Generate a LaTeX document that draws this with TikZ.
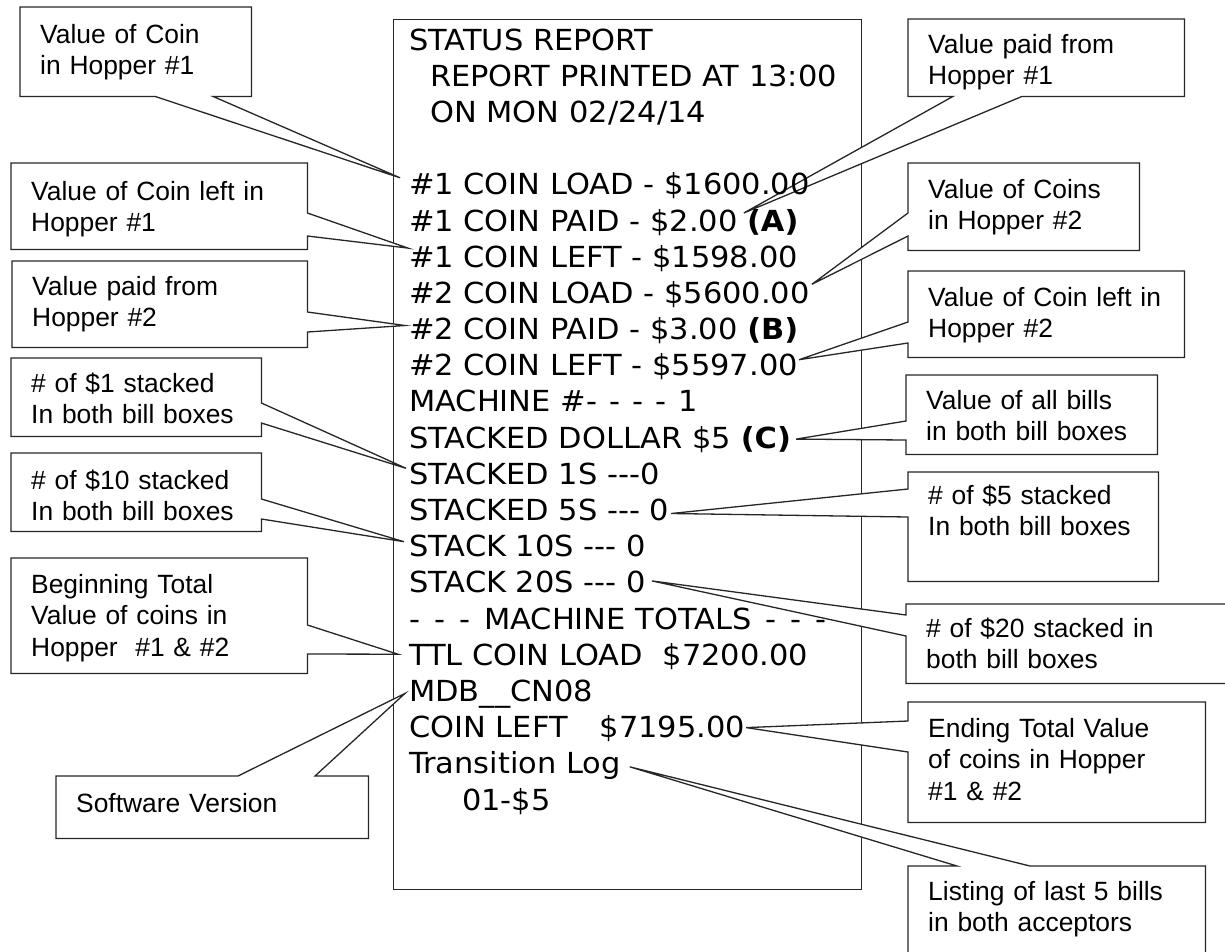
\documentclass[tikz,border=0pt]{standalone}
\usepackage{fontspec}
\setmainfont{Liberation Sans}
\newfontfamily\receiptfont[Ligatures=TeXOff, FakeStretch=1.05]{DejaVu Sans}
\usetikzlibrary{backgrounds}

\tikzset{
  note/.style={anchor=north west, inner xsep=20pt, inner ysep=0pt, align=left,
    font=\fontsize{26.4}{31.5}\selectfont},
  rline/.style={anchor=base west, inner sep=0pt,
    font=\receiptfont\fontsize{29}{36}\selectfont},
  outline/.style={draw=black!85, line width=1.3pt, fill=white},
}

\begin{document}
\begin{tikzpicture}[x=1pt, y=-1pt]
  \useasboundingbox (0,0) rectangle (1225,951);

  % report lines
  \node[rline] (r0) at (409,50) {STATUS REPORT};
  \node[rline] (r1) at (430,86.2) {REPORT PRINTED AT 13:00};
  \node[rline] (r2) at (430,122.4) {ON MON 02/24/14};
  \node[rline] (r4) at (409,194.8) {\#1 COIN LOAD - \$1600.00};
  \node[rline] (r5) at (409,231) {\#1 COIN PAID - \$2.00};
  \node[rline, font=\receiptfont\bfseries\fontsize{29}{36}\selectfont] (r5a) at ([xshift=9pt]r5.base east) {(A)};
  \node[rline] (r6) at (409,267.1) {\#1 COIN LEFT - \$1598.00};
  \node[rline] (r7) at (409,303.3) {\#2 COIN LOAD - \$5600.00};
  \node[rline] (r8) at (409,339.5) {\#2 COIN PAID - \$3.00 \textbf{(B)}};
  \node[rline] (r9) at (409,375.7) {\#2 COIN LEFT - \$5597.00};
  \node[rline] (r10) at (409,411.9) {MACHINE \#-\hspace{12pt}-\hspace{12pt}-\hspace{12pt}-\hspace{12pt}1};
  \node[rline] (r11) at (409,448.1) {STACKED DOLLAR \$5 \textbf{(C)}};
  \node[rline] (r12) at (409,484.3) {STACKED 1S ---0};
  \node[rline] (r13) at (409,520.5) {STACKED 5S --- 0};
  \node[rline] (r14) at (409,556.7) {STACK 10S --- 0};
  \node[rline] (r15) at (409,592.9) {STACK 20S --- 0};
  \node[rline] (r16) at (409,629) {-\hspace{14pt}-\hspace{14pt}-\hspace{14pt}MACHINE TOTALS\hspace{14pt}-\hspace{14pt}-\hspace{14pt}-};
  \node[rline] (r17) at (409,665.2) {TTL COIN LOAD\hspace{20pt}\$7200.00};
  \node[rline] (r18) at (409,701.4) {MDB\_\_CN08};
  \node[rline] (r19) at (409,737.6) {COIN LEFT\hspace{32pt}\$7195.00};
  \node[rline] (r20) at (409,773.8) {Transition Log};
  \node[rline] (r21) at (462,810) {01-\$5};

  % callout texts, left side
  \node[note, text width=191pt, text height=36pt, text depth=53pt] (c1) at (20,7) {Value of Coin\\in Hopper \#1};
  \node[note, text width=256pt, text height=37pt, text depth=49pt] (c2) at (11,163) {Value of Coin left in\\Hopper \#1};
  \node[note, text width=255pt, text height=34pt, text depth=52pt] (c3) at (12,261) {Value paid from\\Hopper \#2};
  \node[note, text width=210pt, text height=34pt, text depth=44pt] (c4) at (11,358) {\# of \$1 stacked\\In both bill boxes};
  \node[note, text width=210pt, text height=36pt, text depth=42pt] (c5) at (11,453) {\# of \$10 stacked\\In both bill boxes};
  \node[note, text width=256pt, text height=35pt, text depth=80pt] (c6) at (11,558) {Beginning Total\\Value of coins in\\Hopper\ \ \#1 \& \#2};
  \node[note, text width=272pt, text height=36pt, text depth=26pt] (c7) at (56,776) {Software Version};

  % callout texts, right side
  \node[note, text width=236pt, text height=34pt, text depth=43pt] (c8) at (908,19) {Value paid from\\Hopper \#1};
  \node[note, text width=191pt, text height=35pt, text depth=52pt] (c9) at (908,163) {Value of Coins\\in Hopper \#2};
  \node[note, text width=236pt, text height=35pt, text depth=51pt] (c10) at (908,271) {Value of Coin left in\\Hopper \#2};
  \node[note, text width=211pt, text height=34pt, text depth=45pt] (c11) at (906,375) {Value of all bills\\in both bill boxes};
  \node[note, text width=210pt, text height=32pt, text depth=77pt] (c12) at (908,472) {\# of \$5 stacked\\In both bill boxes};
  \node[note, text width=299pt, text height=33pt, text depth=46pt] (c13) at (906,604) {\# of \$20 stacked in\\both bill boxes};
  \node[note, text width=257pt, text height=35pt, text depth=85pt] (c14) at (908,702) {Ending Total Value\\of coins in Hopper\\\#1 \& \#2};
  \node[note, text width=257pt, text height=34pt, text depth=84pt] (c15) at (908,866) {Listing of last 5 bills\\in both acceptors};

  % pointer tips
  \coordinate (t1) at ([xshift=-9pt, yshift=17pt]r4.base west);
  \coordinate (t2) at ([xshift=-1pt, yshift=19pt]r6.base west);
  \coordinate (t3) at ([xshift=-4pt, yshift=14pt]r8.base west);
  \coordinate (t4) at ([xshift=-3pt, yshift=16pt]r12.base west);
  \coordinate (t5) at ([xshift=-5pt, yshift=15pt]r14.base west);
  \coordinate (t6) at ([xshift=-11pt, yshift=11pt]r17.base west);
  \coordinate (t7) at ([xshift=-4pt, yshift=8pt]r18.base west);
  \coordinate (t8) at ([xshift=6pt, yshift=18pt]r5.base east);
  \coordinate (t9) at ([xshift=2pt, yshift=19pt]r7.base east);
  \coordinate (t10) at ([xshift=1pt, yshift=16pt]r9.base east);
  \coordinate (t11) at ([xshift=5pt, yshift=9pt]r11.base east);
  \coordinate (t12) at ([xshift=2pt, yshift=7pt]r13.base east);
  \coordinate (t13) at ([xshift=6pt, yshift=12pt]r15.base east);
  \coordinate (t14) at ([xshift=1pt, yshift=10pt]r19.base east);
  \coordinate (t15) at ([xshift=9pt, yshift=7pt]r20.base east);

  \begin{pgfonlayer}{background}
    % printout frame
    \node[draw=black!85, line width=1.3pt, minimum width=468pt, minimum height=870pt,
      anchor=north west, inner sep=0pt] (receipt) at (393,19) {};

    % left callouts
    \draw[outline] (c1.north west) -- (c1.north east) -- (c1.south east) -- ([xshift=193pt]c1.south west) -- (t1) -- ([xshift=135pt]c1.south west) -- (c1.south west) -- cycle;
    \draw[outline] (c2.north west) -- (c2.north east) -- ([yshift=-50pt]c2.north east) -- (t2) -- ([yshift=-73pt]c2.north east) -- (c2.south east) -- (c2.south west) -- cycle;
    \draw[outline] (c3.north west) -- (c3.north east) -- ([yshift=-51pt]c3.north east) -- (t3) -- ([yshift=-71pt]c3.north east) -- (c3.south east) -- (c3.south west) -- cycle;
    \draw[outline] (c4.north west) -- (c4.north east) -- ([yshift=-45pt]c4.north east) -- (t4) -- ([yshift=-65pt]c4.north east) -- (c4.south east) -- (c4.south west) -- cycle;
    \draw[outline] (c5.north west) -- (c5.north east) -- ([yshift=-46pt]c5.north east) -- (t5) -- ([yshift=-66pt]c5.north east) -- (c5.south east) -- (c5.south west) -- cycle;
    \draw[outline] (c6.north west) -- (c6.north east) -- ([yshift=-67pt]c6.north east) -- (t6) -- ([yshift=-96pt]c6.north east) -- (c6.south east) -- (c6.south west) -- cycle;
    \draw[outline] (c7.north west) -- ([xshift=182pt]c7.north west) -- (t7) -- ([xshift=259pt]c7.north west) -- (c7.north east) -- (c7.south east) -- (c7.south west) -- cycle;

    % right callouts
    \draw[outline] (c8.north west) -- (c8.north east) -- (c8.south east) -- ([xshift=114pt]c8.south west) -- (t8) -- ([xshift=45pt]c8.south west) -- (c8.south west) -- cycle;
    \draw[outline] (c9.north west) -- (c9.north east) -- (c9.south east) -- (c9.south west) -- ([yshift=-73pt]c9.north west) -- (t9) -- ([yshift=-50pt]c9.north west) -- cycle;
    \draw[outline] (c10.north west) -- (c10.north east) -- (c10.south east) -- (c10.south west) -- ([yshift=-72pt]c10.north west) -- (t10) -- ([yshift=-51pt]c10.north west) -- cycle;
    \draw[outline] (c11.north west) -- (c11.north east) -- (c11.south east) -- (c11.south west) -- ([yshift=-65pt]c11.north west) -- (t11) -- ([yshift=-46pt]c11.north west) -- cycle;
    \draw[outline] (c12.north west) -- (c12.north east) -- (c12.south east) -- (c12.south west) -- ([yshift=-45pt]c12.north west) -- (t12) -- ([yshift=-17pt]c12.north west) -- cycle;
    \draw[outline] (c13.north west) -- (c13.north east) -- (c13.south east) -- (c13.south west) -- ([yshift=-32pt]c13.north west) -- (t13) -- ([yshift=-11pt]c13.north west) -- cycle;
    \draw[outline] (c14.north west) -- (c14.north east) -- (c14.south east) -- (c14.south west) -- ([yshift=-50pt]c14.north west) -- (t14) -- ([yshift=-19pt]c14.north west) -- cycle;
    \draw[outline] (c15.north west) -- ([xshift=49pt]c15.north west) -- (t15) -- ([xshift=122pt]c15.north west) -- (c15.north east) -- (c15.south east) -- (c15.south west) -- cycle;
  \end{pgfonlayer}
\end{tikzpicture}
\end{document}
